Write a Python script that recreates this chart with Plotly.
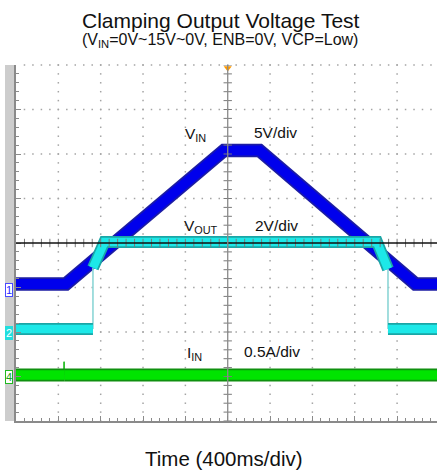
import plotly.graph_objects as go

# ---------------- data ----------------
TIME_PER_DIV = 0.4  # s/div (400 ms/div)

# Channel 1 : V_IN (V)
vin_t = [-2.0, -1.528, -0.035, 0.30, 1.773, 1.977]
vin_v = [0.0, 0.0, 15.0, 15.0, 0.0, 0.0]

# Channel 2 : V_OUT (V)
vout_t = [-2.0, -1.273, -1.273, -1.165, 1.410, 1.514, 1.514, 1.977]
vout_v = [0.0, 0.0, 2.75, 3.91, 3.91, 2.7, 0.0, 0.0]

# Channel 4 : I_IN (A)
iin_t = [-2.0, -1.545, -1.545, -1.545, 1.977]
iin_a = [0.0, 0.0, 0.15, 0.0, 0.0]

# channel settings: volts(amps)/div and ground position (div from centre)
ch_names = ["1", "2", "4"]
ch_scale = [5.0, 2.0, 0.5]
ch_ground_div = [-0.92, -1.933, -2.966]

# ---------------- geometry ----------------
W, H = 437, 472
ML, MR, MT, MB = 16, 0, 65, 51
PW, PH = W - ML - MR, H - MT - MB
X_RANGE = [-2.0, 1.977]
NDIV_Y = 4

def px_x(px):
    return (px - ML) / PW

def px_y(py):
    return (H - MB - py) / PH

FONT = "Liberation Sans, Arial, sans-serif"

fig = go.Figure()

# ---------------- dotted graticule (dots every 1/5 division) ----------------
sub_t = TIME_PER_DIV / 5
kmin = int(X_RANGE[0] / sub_t) - 1
kmax = int(X_RANGE[1] / sub_t) + 1
sub_ts = [round(k * sub_t, 4) for k in range(kmin, kmax + 1)
          if X_RANGE[0] + 1e-9 < k * sub_t < X_RANGE[1]]
div_ts = [round(k * TIME_PER_DIV, 4) for k in range(-5, 6)
          if X_RANGE[0] + 1e-9 < k * TIME_PER_DIV < X_RANGE[1] and k != 0]
sub_ys = [j / 5 for j in range(-5 * NDIV_Y, 5 * NDIV_Y + 1)]
div_ys = [j for j in range(-NDIV_Y + 1, NDIV_Y + 1) if j != 0]
gx, gy = [], []
for xv in div_ts:
    for yv in sub_ys:
        gx.append(xv); gy.append(yv)
for yv in div_ys:
    for xv in sub_ts:
        gx.append(xv); gy.append(yv)
fig.add_trace(go.Scatter(x=gx, y=gy, mode="markers",
                         marker=dict(symbol="square", size=1.5, color="#a4a4a4",
                                     line=dict(width=0)),
                         cliponaxis=False, hoverinfo="skip", showlegend=False))


def add_channel(t, v, yaxis, core, edge, thin_color, width):
    thick_x, thick_y, thin_x, thin_y = [], [], [], []
    run_x, run_y = [], []
    for i in range(len(t) - 1):
        if t[i] == t[i + 1]:
            thin_x += [t[i], t[i + 1], None]
            thin_y += [v[i], v[i + 1], None]
            if run_x:
                thick_x += run_x + [None]
                thick_y += run_y + [None]
                run_x, run_y = [], []
        else:
            if not run_x:
                run_x, run_y = [t[i]], [v[i]]
            run_x.append(t[i + 1])
            run_y.append(v[i + 1])
    if run_x:
        thick_x += run_x
        thick_y += run_y
    if thin_x:
        fig.add_trace(go.Scatter(x=thin_x, y=thin_y, yaxis=yaxis, mode="lines",
                                 line=dict(color=thin_color, width=1.6),
                                 hoverinfo="skip", showlegend=False))
    fig.add_trace(go.Scatter(x=thick_x, y=thick_y, yaxis=yaxis, mode="lines",
                             line=dict(color=edge, width=width),
                             hoverinfo="skip", showlegend=False))
    fig.add_trace(go.Scatter(x=thick_x, y=thick_y, yaxis=yaxis, mode="lines",
                             line=dict(color=core, width=width - 3.5),
                             hoverinfo="skip", showlegend=False))


add_channel(vin_t, vin_v, "y2", "#0000ec", "#1c1ca4", "#5050ff", 13.5)
add_channel(vout_t, vout_v, "y3", "#1de8e8", "#1aa6a6", "#8cd6d6", 12)
add_channel(iin_t, iin_a, "y4", "#00e400", "#0f900f", "#30c030", 13)

# crosshair tick marks (every 1/5 division) on the centre lines
fig.add_trace(go.Scatter(x=sub_ts, y=[0] * len(sub_ts), yaxis="y5", mode="markers",
                         marker=dict(symbol="line-ns", size=6,
                                     line=dict(color="#7a7a7a", width=1)),
                         hoverinfo="skip", showlegend=False))
fig.add_trace(go.Scatter(x=[0] * len(sub_ys), y=sub_ys, yaxis="y5", mode="markers",
                         marker=dict(symbol="line-ew", size=6,
                                     line=dict(color="#7a7a7a", width=1)),
                         hoverinfo="skip", showlegend=False))
# trigger position marker
fig.add_trace(go.Scatter(x=[0], y=[3.93], yaxis="y5", mode="markers",
                         marker=dict(symbol="triangle-down", size=7, color="#ff9a00"),
                         cliponaxis=False, hoverinfo="skip", showlegend=False))


def ch_range(scale, g):
    return [(-NDIV_Y - g) * scale, (NDIV_Y - g) * scale]


axis_col = "#8a8a8a"
fig.update_layout(
    width=W, height=H,
    margin=dict(l=ML, r=MR, t=MT, b=MB, pad=0),
    paper_bgcolor="white", plot_bgcolor="white",
    showlegend=False,
    xaxis=dict(range=X_RANGE, showgrid=False, tick0=0, dtick=TIME_PER_DIV,
               showticklabels=False, zeroline=False, showline=True,
               linecolor=axis_col, linewidth=1.5, ticks="inside", ticklen=5,
               tickcolor=axis_col, tickwidth=1,
               minor=dict(dtick=TIME_PER_DIV / 5, ticks="inside", ticklen=3,
                          tickcolor=axis_col, showgrid=False),
               fixedrange=True),
    yaxis=dict(range=[-NDIV_Y, NDIV_Y], showgrid=False, tick0=0, dtick=1,
               showticklabels=False, zeroline=False, showline=True,
               linecolor=axis_col, linewidth=1.5,
               ticks="inside", ticklen=5, tickcolor=axis_col, tickwidth=1,
               minor=dict(dtick=0.2, ticks="inside", ticklen=3, tickcolor=axis_col,
                          showgrid=False),
               fixedrange=True),
    yaxis2=dict(overlaying="y", visible=False, range=ch_range(ch_scale[0], ch_ground_div[0]),
                fixedrange=True),
    yaxis3=dict(overlaying="y", visible=False, range=ch_range(ch_scale[1], ch_ground_div[1]),
                fixedrange=True),
    yaxis4=dict(overlaying="y", visible=False, range=ch_range(ch_scale[2], ch_ground_div[2]),
                fixedrange=True),
    yaxis5=dict(overlaying="y", visible=False, range=[-NDIV_Y, NDIV_Y], fixedrange=True),
)

shapes = [
    # gray strip at the left of the screen
    dict(type="rect", xref="paper", yref="paper", x0=px_x(5), x1=px_x(14.5), y0=0, y1=1,
         fillcolor="#cdcdcd", line=dict(width=0), layer="below"),
    # centre crosshair
    dict(type="line", xref="paper", yref="y", x0=0, x1=1, y0=0, y1=0,
         line=dict(color="#111111", width=1.3), layer="above"),
    dict(type="line", xref="x", yref="paper", x0=0, x1=0, y0=0, y1=1,
         line=dict(color="#8a8a8a", width=1.3), layer="above"),
]
fig.update_layout(shapes=shapes)

ann = []
# channel ground markers
marker_style = [
    dict(font_color="#2a2aff", bg="white", border="#4a4aff", yshift=-6),
    dict(font_color="white", bg="#22dede", border="#22dede", yshift=-4),
    dict(font_color="#18a018", bg="white", border="#22b822", yshift=-2),
]
for i, name in enumerate(ch_names):
    s = marker_style[i]
    ann.append(dict(text=name, xref="paper", yref="y%d" % (i + 2), x=px_x(9.3), y=0,
                    xanchor="center", yanchor="middle", yshift=s["yshift"], showarrow=False,
                    font=dict(family=FONT, size=11, color=s["font_color"]),
                    bgcolor=s["bg"], bordercolor=s["border"], borderwidth=1, borderpad=0))

def text(t, x, y, size, xanchor="center"):
    ann.append(dict(text=t, xref="paper", yref="paper", x=px_x(x), y=px_y(y),
                    xanchor=xanchor, yanchor="middle", showarrow=False,
                    font=dict(family=FONT, size=size, color="#111111")))

text("Clamping Output Voltage Test", 221, 20.8, 21)
text("(V<sub>IN</sub>=0V~15V~0V, ENB=0V, VCP=Low)", 220, 40, 16)
text("V<sub>IN</sub>", 183, 134, 15.5, "left")
text("5V/div", 252, 132, 15.5, "left")
text("V<sub>OUT</sub>", 181.5, 226.5, 15.5, "left")
text("2V/div", 253, 225, 15.5, "left")
text("I<sub>IN</sub>", 185, 353, 15.5, "left")
text("0.5A/div", 241.5, 351, 15.5, "left")
text("Time (400ms/div)", 224, 458, 20.5)
fig.update_layout(annotations=ann)

fig.write_html("out.html")
